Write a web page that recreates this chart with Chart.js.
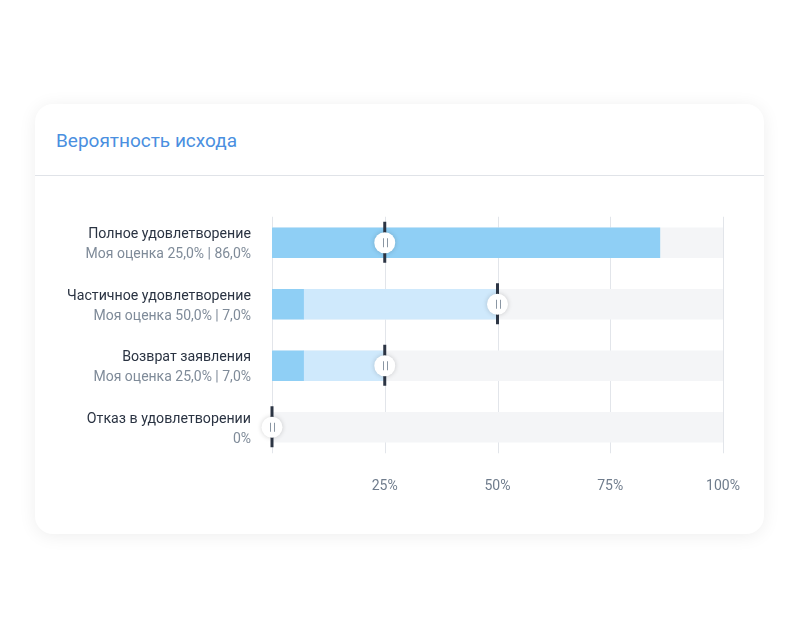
<!DOCTYPE html>
<html>
<head>
<meta charset="utf-8">
<script src="https://cdn.jsdelivr.net/npm/chart.js@4"></script>
<style>
  body { margin: 0; background: #fff; font-family: Roboto, "Noto Sans", sans-serif; }
  .card {
    position: absolute; left: 35px; top: 104px; width: 729px; height: 430px;
    background: #fff; border-radius: 18px;
    box-shadow: 0 2px 18px rgba(0, 0, 0, 0.07);
  }
  .card h2 {
    margin: 0; position: absolute; left: 21px; top: 25px;
    font-size: 19px; font-weight: 400; color: #4a8fe0; line-height: 24px;
  }
  .card .sep { position: absolute; left: 0; right: 0; top: 71px; height: 1px; background: #e0e3e8; }
  .card canvas { position: absolute; left: 0; top: 72px; }
</style>
</head>
<body>
<div class="card">
  <h2>Вероятность исхода</h2>
  <div class="sep"></div>
  <canvas id="myChart" width="729" height="358"></canvas>
</div>
<script>
const categories = ["Полное удовлетворение", "Частичное удовлетворение", "Возврат заявления", "Отказ в удовлетворении"];
const actual = [86, 7, 7, 0];     // фактическая вероятность
const estimate = [25, 50, 25, 0]; // моя оценка
const xTicks = [0, 25, 50, 75, 100];

const fmt = v => v.toFixed(1).replace(".", ",") + "%";
const subLabels = categories.map((c, i) =>
  actual[i] === 0 && estimate[i] === 0 ? "0%" : "Моя оценка " + fmt(estimate[i]) + " | " + fmt(actual[i])
);

// подписи слева, сетка и ползунки оценки
const overlay = {
  id: "overlay",
  beforeDatasetsDraw(chart) {
    const { ctx, scales: { x, y } } = chart;
    const top = y.getPixelForValue(0) - 26;
    const bottom = y.getPixelForValue(categories.length - 1) + 26;
    ctx.save();
    ctx.strokeStyle = "#e2e5ea";
    ctx.lineWidth = 1;
    xTicks.forEach(t => {
      const px = Math.round(x.getPixelForValue(t)) + 0.5;
      ctx.beginPath();
      ctx.moveTo(px, top);
      ctx.lineTo(px, bottom);
      ctx.stroke();
    });
    ctx.restore();
  },
  afterDatasetsDraw(chart) {
    const { ctx, scales: { x, y } } = chart;
    ctx.save();
    categories.forEach((c, i) => {
      const cy = y.getPixelForValue(i);
      ctx.textAlign = "right";
      ctx.textBaseline = "middle";
      ctx.font = "14.2px Roboto";
      ctx.fillStyle = "#2a3342";
      ctx.fillText(c, 216, cy - 8);
      ctx.font = "14px Roboto";
      ctx.fillStyle = "#7f8b99";
      ctx.fillText(subLabels[i], 216, cy + 12);

      const mx = x.getPixelForValue(estimate[i]);
      ctx.strokeStyle = "#2c3544";
      ctx.lineWidth = 3;
      ctx.beginPath();
      ctx.moveTo(mx, cy - 21);
      ctx.lineTo(mx, cy + 20);
      ctx.stroke();

      ctx.save();
      ctx.shadowColor = "rgba(0,0,0,0.18)";
      ctx.shadowBlur = 5;
      ctx.fillStyle = "#fff";
      ctx.beginPath();
      ctx.arc(mx, cy, 10.5, 0, Math.PI * 2);
      ctx.fill();
      ctx.restore();

      ctx.strokeStyle = "#8a96a3";
      ctx.lineWidth = 1;
      [-2, 2].forEach(dx => {
        ctx.beginPath();
        ctx.moveTo(Math.round(mx + dx) + 0.5, cy - 4.5);
        ctx.lineTo(Math.round(mx + dx) + 0.5, cy + 4.5);
        ctx.stroke();
      });
    });
    ctx.restore();
  },
};

const ctx = document.getElementById("myChart").getContext("2d");
const myChart = new Chart(ctx, {
  type: "bar",
  data: {
    labels: categories,
    datasets: [
      {
        label: "Вероятность",
        data: actual.map(v => [0, v]),
        backgroundColor: "#8fcff5",
      },
      {
        label: "Моя оценка",
        data: actual.map((v, i) => (estimate[i] > v ? [v, estimate[i]] : null)),
        backgroundColor: "#cfe9fc",
      },
      {
        label: "Фон",
        data: categories.map(() => [0, 100]),
        backgroundColor: "#f4f5f7",
      },
    ],
  },
  options: {
    indexAxis: "y",
    responsive: false,
    animation: false,
    datasets: { bar: { grouped: false, barThickness: 30, borderSkipped: false } },
    layout: { padding: { left: 237, right: 41, top: 36, bottom: 26 } },
    plugins: { legend: { display: false }, tooltip: { enabled: false } },
    scales: {
      y: { display: false },
      x: {
        min: 0,
        max: 100,
        afterBuildTicks: s => { s.ticks = xTicks.map(v => ({ value: v })); },
        afterFit: s => { s.height = 50; },
        border: { display: false },
        grid: { display: false, drawTicks: false },
        ticks: {
          padding: 20,
          color: "#6f7c8c",
          font: { family: "Roboto", size: 14 },
          callback: v => (v === 0 ? "" : v + "%"),
        },
      },
    },
  },
  plugins: [overlay],
});
</script>
</body>
</html>
